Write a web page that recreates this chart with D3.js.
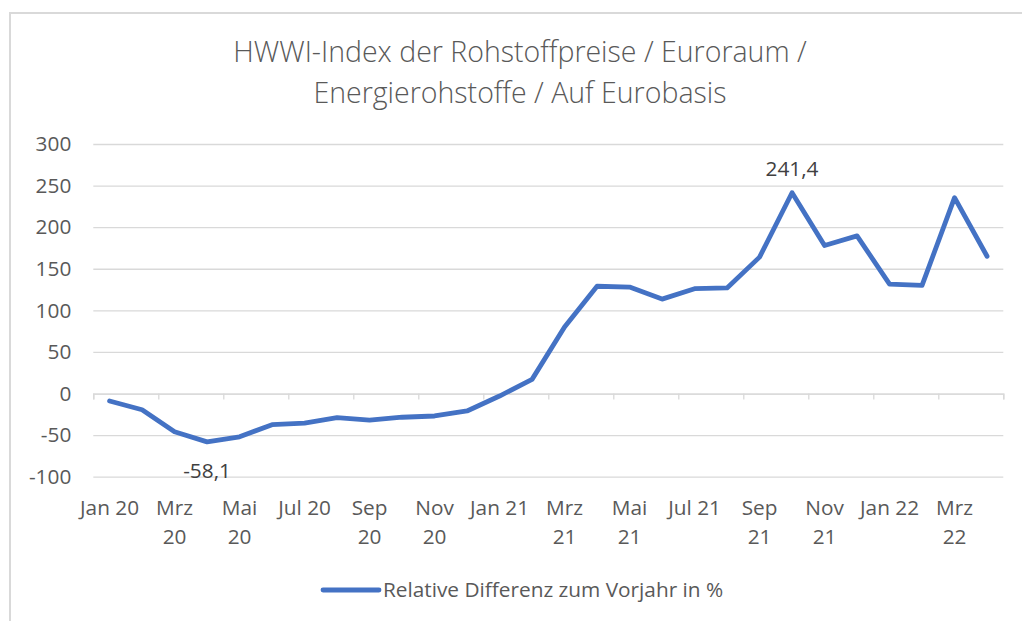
<!DOCTYPE html>
<html>
<head>
<meta charset="utf-8">
<script src="https://cdn.jsdelivr.net/npm/d3@7"></script>
<style>
  html,body{margin:0;padding:0;background:#fff;}
  svg{display:block;font-family:"Open Sans",Calibri,Arial,sans-serif;}
</style>
</head>
<body>
<svg id="chart" width="1022" height="621"></svg>
<script>
// ---- data ----
const months = ['Jan 20','Feb 20','Mrz 20','Apr 20','Mai 20','Jun 20','Jul 20','Aug 20','Sep 20','Okt 20','Nov 20','Dez 20',
                'Jan 21','Feb 21','Mrz 21','Apr 21','Mai 21','Jun 21','Jul 21','Aug 21','Sep 21','Okt 21','Nov 21','Dez 21',
                'Jan 22','Feb 22','Mrz 22','Apr 22'];
const values = [-9, -19.5, -46, -58.1, -52, -37.5, -35.5, -29, -32, -28.5, -27, -21,
                -3, 17, 80, 129, 128, 113.5, 126, 127, 164, 241.4, 178, 189.5,
                131.5, 130, 235.5, 165];
// every second month carries a label; a line break where the original wraps
const tickLabels = ['Jan 20','Mrz\n20','Mai\n20','Jul 20','Sep\n20','Nov\n20','Jan 21','Mrz\n21','Mai\n21','Jul 21','Sep\n21','Nov\n21','Jan 22','Mrz\n22'];
const yTicks = [-100,-50,0,50,100,150,200,250,300];
const labelled = {'Apr 20':'-58,1','Okt 21':'241,4'};
const titleLines = ['HWWI-Index der Rohstoffpreise / Euroraum /','Energierohstoffe / Auf Eurobasis'];
const seriesName = 'Relative Differenz zum Vorjahr in %';

const BLUE = '#4472C4', GRID = '#d9d9d9', INK = '#595959';
const FS = 20.8;
const svg = d3.select('#chart');

// chart frame (runs off the right/bottom like the screenshot)
svg.append('rect').attr('x',10).attr('y',13).attr('width',1030).attr('height',640)
  .attr('fill','none').attr('stroke',GRID).attr('stroke-width',2);

const L=93.3, R=1003.3, T=144, B=476.7;
const x = d3.scaleBand().domain(months).range([L,R]).padding(0);
const xi = d3.scaleLinear().domain([0,months.length]).range([L,R]);
const y = d3.scaleLinear().domain([-100,300]).range([B,T]);
const cx = m => x(m) + x.bandwidth()/2;

// title
svg.append('g').selectAll('text').data(titleLines).join('text')
  .attr('x',520).attr('y',(d,i)=>62+i*41).attr('text-anchor','middle')
  .attr('fill',INK).attr('font-size',28.5).attr('font-weight',300).text(d=>d);

// gridlines + y labels
const gy = svg.append('g').attr('transform',`translate(${L},0)`)
  .call(d3.axisLeft(y).tickValues(yTicks).tickSize(-(R-L)).tickPadding(22).tickFormat(d=>String(d)));
gy.select('.domain').remove();
gy.selectAll('.tick line').attr('stroke',GRID).attr('stroke-width',1.3);
gy.selectAll('.tick text').attr('fill',INK).attr('font-size',FS).attr('font-family','"Open Sans",sans-serif');

// category axis on zero line
const gx = svg.append('g').attr('transform',`translate(0,${y(0)})`)
  .call(d3.axisBottom(xi).tickValues(d3.range(0,months.length+1,2)).tickSize(6).tickFormat(''));
gx.select('.domain').attr('stroke',GRID).attr('stroke-width',1.3);
gx.selectAll('.tick line').attr('stroke',GRID).attr('stroke-width',1.3);

// x labels (under the plot, centred on labelled months)
const lab = svg.append('g').selectAll('text').data(tickLabels).join('text')
  .attr('text-anchor','middle').attr('fill',INK).attr('font-size',FS)
  .attr('transform',(d,i)=>`translate(${cx(months[i*2])},515)`);
lab.selectAll('tspan').data(d=>d.split('\n')).join('tspan')
  .attr('x',0).attr('dy',(d,i)=>i?29:0).text(d=>d);

// line
const line = d3.line().x((d,i)=>cx(months[i])).y(d=>y(d));
svg.append('path').datum(values).attr('d',line)
  .attr('fill','none').attr('stroke',BLUE).attr('stroke-width',4.8)
  .attr('stroke-linejoin','round').attr('stroke-linecap','round');

// data labels
svg.append('g').selectAll('text').data(Object.keys(labelled)).join('text')
  .attr('x',m=>cx(m)).attr('y',m=>{const v=values[months.indexOf(m)]; return v<0? y(v)+36 : y(v)-17;})
  .attr('text-anchor','middle').attr('fill','#404040').attr('font-size',FS).text(m=>labelled[m]);

// legend
const lg = svg.append('g').attr('transform','translate(323,590)');
lg.append('line').attr('x1',0).attr('x2',56).attr('stroke',BLUE).attr('stroke-width',4.8).attr('stroke-linecap','round');
lg.append('text').attr('x',60).attr('y',7).attr('fill',INK).attr('font-size',FS).text(seriesName);
</script>
</body>
</html>
